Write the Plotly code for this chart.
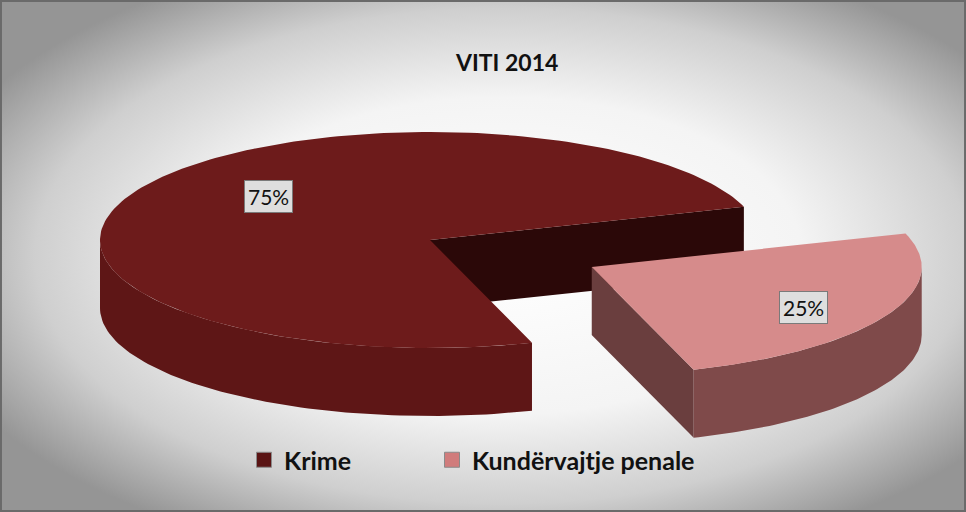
import base64
import numpy as np
import plotly.graph_objects as go

# ---- data ----
title_text = "VITI 2014"
categories = ["Krime", "Kundërvajtje penale"]
values = [75, 25]
top_colors = ["#6d1b1b", "#d68b8b"]
side_colors = ["#5e1616", "#7f4a4a"]
cut_colors = ["#2b0808", "#6a3e3e"]
legend_colors = ["#5a1414", "#d07c7c"]

# ---- geometry (style) ----
W, H = 966, 512
CX, CY = 430, 240
RX, RY = 330, 108
DEPTH = 68
START = 18.0          # degrees, counter-clockwise slices
EXPLODE = [0.0, 0.55]
LABEL_F = [0.55, 0.72]
LABEL_DY = [-17, 5]
LEGEND_X = [244, 432]

def pt(cx, cy, a, dz=0):
    r = np.radians(a)
    return cx + RX * np.cos(r), cy - RY * np.sin(r) + dz

fig = go.Figure()
total = float(sum(values))
angles = []
a = START
for v in values:
    span = 360.0 * v / total
    angles.append((a, a + span))
    a += span

label_pos = []
for i, (cat, (a0, a1)) in enumerate(zip(categories, angles)):
    mid = np.radians((a0 + a1) / 2)
    cx = CX + EXPLODE[i] * RX * np.cos(mid)
    cy = CY - EXPLODE[i] * RY * np.sin(mid)

    # visible cut faces
    for edge, normal in ((a0, a0 - 90), (a1, a1 + 90)):
        if np.sin(np.radians(normal)) < 0.05:
            ex, ey = pt(cx, cy, edge)
            fig.add_trace(go.Scatter(x=[cx, ex, ex, cx, cx], y=[cy, ey, ey + DEPTH, cy + DEPTH, cy],
                                     fill="toself", mode="lines",
                                     line=dict(width=0, color=cut_colors[i]),
                                     fillcolor=cut_colors[i], showlegend=False, hoverinfo="skip"))

    # outer side (front half only)
    lo = a0 % 360
    hi = lo + (a1 - a0)
    for base in (180, 540):
        s0, s1 = max(lo, base), min(hi, base + 180)
        if s1 <= s0:
            continue
        t = np.linspace(s0, s1, 80)
        xs_top, ys_top = pt(cx, cy, t)
        xs = np.concatenate([xs_top, xs_top[::-1], xs_top[:1]])
        ys = np.concatenate([ys_top, ys_top[::-1] + DEPTH, ys_top[:1]])
        fig.add_trace(go.Scatter(x=xs, y=ys, fill="toself", mode="lines",
                                 line=dict(width=0, color=side_colors[i]),
                                 fillcolor=side_colors[i], showlegend=False, hoverinfo="skip"))

    # top face
    t = np.linspace(a0, a1, 200)
    ax, ay = pt(cx, cy, t)
    fig.add_trace(go.Scatter(x=np.concatenate([[cx], ax, [cx]]), y=np.concatenate([[cy], ay, [cy]]),
                             fill="toself", mode="lines",
                             line=dict(width=0, color=top_colors[i]),
                             fillcolor=top_colors[i], showlegend=False,
                             hovertemplate=f"{cat}: {values[i]}%<extra></extra>"))

    label_pos.append((cx + LABEL_F[i] * RX * np.cos(mid), cy - LABEL_F[i] * RY * np.sin(mid)))

# legend entries (square swatches), one legend per entry
legend_names = ["legend", "legend2"]
for cat, col, lg in zip(categories, legend_colors, legend_names):
    fig.add_trace(go.Scatter(x=[None], y=[None], mode="markers", name=cat, legend=lg,
                             marker=dict(symbol="square", size=15, color=col,
                                         line=dict(width=1, color="#8a8a8a"))))

for i, ((lx, ly), v) in enumerate(zip(label_pos, values)):
    fig.add_annotation(x=lx, y=ly, xref="x", yref="y", yshift=-LABEL_DY[i], text=f"{v}%", showarrow=False,
                       font=dict(family="Lato", size=21, color="#111111"),
                       bgcolor="#dedede", bordercolor="#7a7a7a", borderwidth=1, borderpad=3)

fig.add_annotation(x=506, y=62, xref="x", yref="y", text=f"<b>{title_text}</b>", showarrow=False,
                   font=dict(family="Lato", size=23, color="#111111"))

# background gradient as an svg image
svg = f"""<svg xmlns='http://www.w3.org/2000/svg' width='{W}' height='{H}'>
<defs><radialGradient id='g' cx='0.52' cy='0.5' r='0.62'>
<stop offset='0' stop-color='#ffffff'/><stop offset='0.5' stop-color='#f4f4f4'/>
<stop offset='0.78' stop-color='#cfcfcf'/><stop offset='1' stop-color='#959595'/></radialGradient></defs>
<rect width='{W}' height='{H}' fill='url(#g)'/></svg>"""
src = "data:image/svg+xml;base64," + base64.b64encode(svg.encode()).decode()
fig.add_layout_image(source=src, xref="paper", yref="paper", x=0, y=1, sizex=1, sizey=1,
                     xanchor="left", yanchor="top", sizing="stretch", layer="below")

fig.add_shape(type="rect", xref="paper", yref="paper", x0=0.001, y0=0.002, x1=0.999, y1=0.998,
              line=dict(color="#6a6a6a", width=2), fillcolor="rgba(0,0,0,0)", layer="above")

legend_style = dict(orientation="h", xanchor="left", y=(H - 460) / H, yanchor="middle",
                    font=dict(family="Lato", size=25, color="#111111", weight="bold"),
                    bgcolor="rgba(0,0,0,0)", itemwidth=30)

fig.update_layout(
    width=W, height=H,
    margin=dict(l=0, r=0, t=0, b=0),
    paper_bgcolor="#ececec", plot_bgcolor="rgba(0,0,0,0)",
    xaxis=dict(range=[0, W], visible=False, fixedrange=True),
    yaxis=dict(range=[H, 0], visible=False, fixedrange=True),
    legend=dict(x=LEGEND_X[0] / W, **legend_style),
    legend2=dict(x=LEGEND_X[1] / W, **legend_style),
    showlegend=True,
)

fig.write_html("out.html", config={"displayModeBar": False},
               post_script="document.body.style.margin='0';document.body.style.overflow='hidden';")
